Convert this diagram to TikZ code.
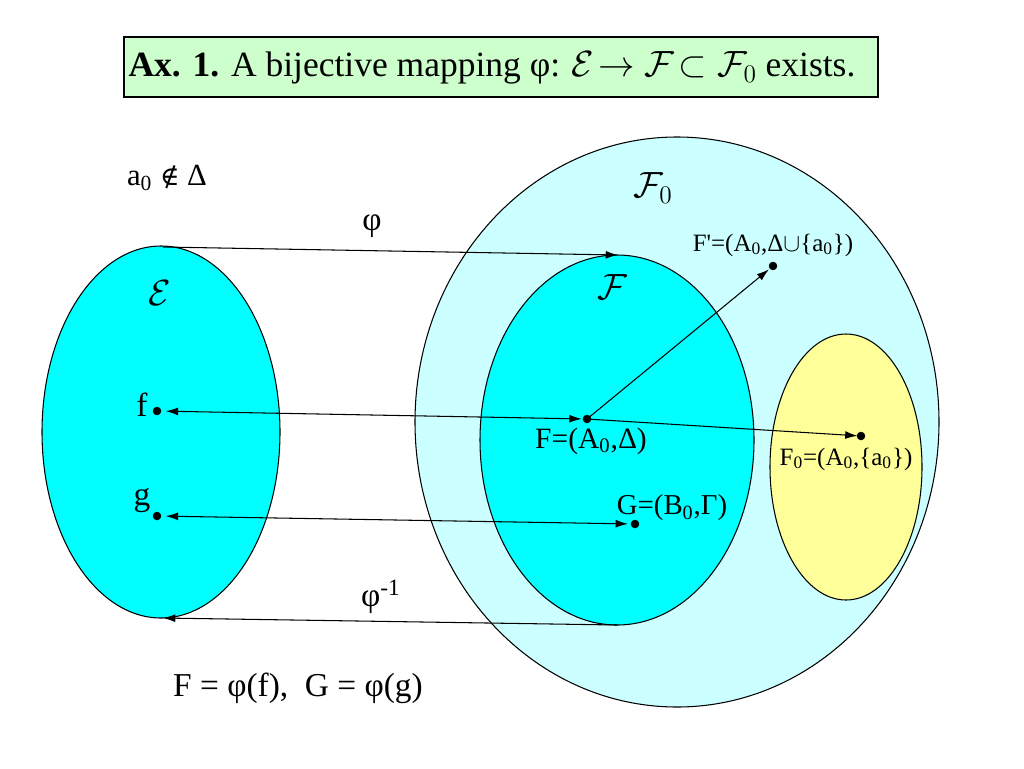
\documentclass[tikz,border=0pt]{standalone}
\usepackage{fontspec}
\setmainfont{Liberation Serif}
\newfontfamily\symfont{DejaVu Serif}
\usetikzlibrary{arrows.meta}
\definecolor{boxgreen}{HTML}{CCFFCC}
\definecolor{paleblue}{HTML}{CCFFFF}
\definecolor{setcyan}{HTML}{00FFFF}
\definecolor{paleyellow}{HTML}{FFFF99}
\tikzset{
    setline/.style={draw=black, line width=0.6pt},
    maparrow/.style={-{Latex[length=7pt,width=4.5pt]}, line width=0.6pt},
    bothways/.style={{Latex[length=7pt,width=4.5pt]}-{Latex[length=7pt,width=4.5pt]}, line width=0.6pt},
    lbl/.style={inner sep=0pt, font=\fontsize{15}{17}\selectfont},
    biglbl/.style={inner sep=0pt, font=\fontsize{19}{22}\selectfont},
    scriptlbl/.style={inner sep=0pt, font=\fontsize{22}{25}\selectfont},
}
\newcommand{\sub}[1]{\textsubscript{#1}}
\begin{document}
\begin{tikzpicture}[x=0.02cm, y=-0.02cm]
    \useasboundingbox[fill=white] (0,0) rectangle (1024,768);
    % title box
    \draw[fill=boxgreen, line width=0.6pt] (124,37) rectangle (878,97);
    \node[inner sep=0pt, font=\fontsize{20.2}{23}\selectfont] (title) at (492,68) {\textbf{Ax. 1.} A bijective mapping φ: $\mathcal{E}\!\rightarrow\mathcal{F}\!\subset\mathcal{F}_0$ exists.};
    % sets
    \draw[setline, fill=paleblue] (677,422) ellipse (262 and 285);
    \draw[setline, fill=setcyan] (161,432) ellipse (119 and 186);
    \draw[setline, fill=setcyan] (617,440) ellipse (137 and 185);
    \draw[setline, fill=paleyellow] (846,467) ellipse (76 and 133);
    % points
    \draw[fill] (157,411) circle (2.2pt) coordinate (f);
    \draw[fill] (157,516) circle (2.2pt) coordinate (g);
    \draw[fill] (587,419) circle (2.2pt) coordinate (F);
    \draw[fill] (635,524) circle (2.2pt) coordinate (G);
    \draw[fill] (773,266) circle (2.2pt) coordinate (F1);
    \draw[fill] (861,436) circle (2.2pt) coordinate (F0);
    \coordinate (Etop) at (163,247);
    \coordinate (Ftop) at (618,255);
    \coordinate (Ebot) at (163,618);
    \coordinate (Fbot) at (617,625);
    % labels
    \node[lbl, font=\fontsize{17.5}{20}\selectfont] (notin) at (167,178) {a\sub{0} {\symfont\fontsize{15}{17}\selectfont ∉} Δ};
    \node[biglbl] (phi) at (372,226) {φ};
    \node[biglbl] (phiinv) at (381,597) {φ\textsuperscript{-1}};
    \node[scriptlbl] (Elbl) at (160,293) {$\mathcal{E}$};
    \node[scriptlbl] (Flbl) at (612,287) {$\mathcal{F}$};
    \node[scriptlbl] (F0lbl) at (653,188) {$\mathcal{F}_0$};
    \node[biglbl] (flbl) at (142,405) {f};
    \node[biglbl] (glbl) at (142,501) {g};
    \node[lbl, font=\fontsize{16.8}{19}\selectfont] (Flbl2) at (591,441) {F=(A\sub{0},Δ)};
    \node[lbl, font=\fontsize{16.4}{19}\selectfont] (Glbl) at (672,508) {G=(B\sub{0},Γ)};
    \node[lbl, font=\fontsize{14.2}{16}\selectfont] (F1lbl) at (773,245) {F\textquotesingle=(A\sub{0},Δ$\cup$\{a\sub{0}\})};
    \node[lbl, font=\fontsize{14.2}{16}\selectfont] (F0lbl2) at (846,459) {F\sub{0}=(A\sub{0},\{a\sub{0}\})};
    \node[biglbl] (defs) at (298,688) {F = φ(f), \ G = φ(g)};
    % mappings
    \draw[maparrow] (Etop) -- (Ftop);
    \draw[maparrow] (Fbot) -- (Ebot);
    \draw[bothways, shorten <=5pt, shorten >=3pt] (f) -- (F);
    \draw[bothways, shorten <=5pt, shorten >=4pt] (g) -- (G);
    \draw[maparrow, shorten <=2pt, shorten >=3pt] (F) -- (F1);
    \draw[maparrow, shorten <=2pt, shorten >=2pt] (F) -- (F0);
\end{tikzpicture}
\end{document}
